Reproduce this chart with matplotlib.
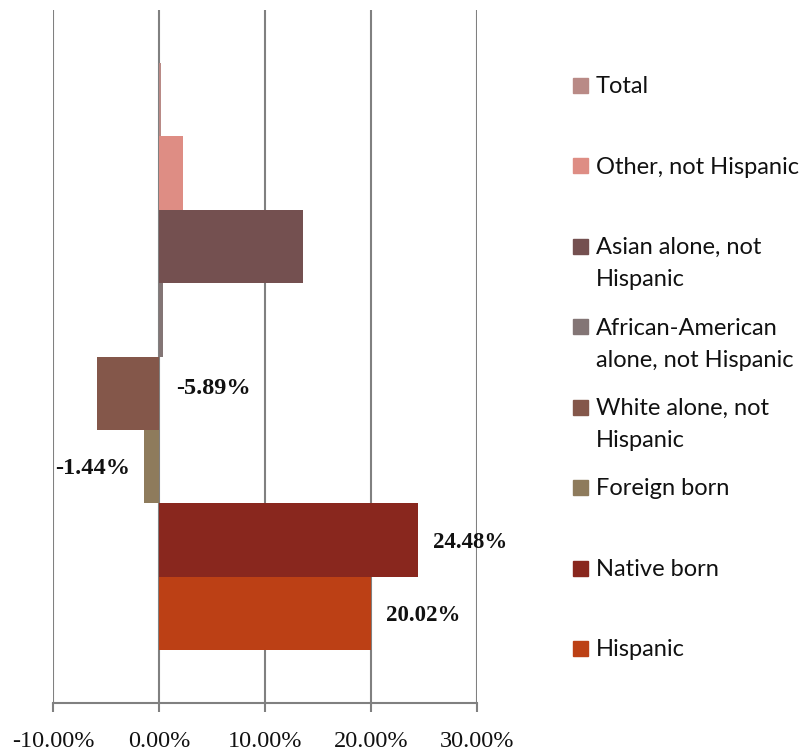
import matplotlib.pyplot as plt
from matplotlib.patches import Rectangle
from matplotlib.ticker import FuncFormatter

# Reihen von oben nach unten, wie in der Legende
namen = ["Total", "Other, not Hispanic", "Asian alone, not\nHispanic",
         "African-American\nalone, not Hispanic", "White alone, not\nHispanic",
         "Foreign born", "Native born", "Hispanic"]
werte = [0.15, 2.23, 13.55, 0.35, -5.89, -1.44, 24.48, 20.02]
farben = ["#B98A86", "#DE8D84", "#745050", "#837575", "#84574A",
          "#8E7B5C", "#89271E", "#BC4015"]
beschriftet = [False, False, False, False, True, True, True, True]
x_ticks = [-10, 0, 10, 20, 30]

W, H = 809, 755
fig = plt.figure(figsize=(W / 100, H / 100), dpi=100)
ax = fig.add_axes([53 / W, 1 - 703 / H, (477 - 53) / W, (703 - 10) / H])

n = len(werte)
ypos = [n - 1 - i for i in range(n)]
ax.barh(ypos, werte, height=1.0, color=farben, zorder=3)

ax.set_xlim(-10, 30)
ax.set_ylim(-0.5 - 0.72, n - 0.5 + 0.72)
ax.set_xticks(x_ticks)
ax.xaxis.set_major_formatter(FuncFormatter(lambda v, p: "%.2f%%" % v))
ax.set_yticks([])
ax.grid(axis="x", color="#808080", linewidth=1.5, zorder=1)
for s in ["top", "left", "right"]:
    ax.spines[s].set_visible(False)
ax.spines["bottom"].set_color("#808080")
ax.spines["bottom"].set_linewidth(1.5)
ax.tick_params(axis="x", direction="out", length=6.5, width=1.5, color="#808080",
               pad=14, labelsize=17.5, labelcolor="#111111")
for lab in ax.get_xticklabels():
    lab.set_fontfamily("Liberation Serif")

# Datenbeschriftungen
px = 40 / (477 - 53)  # Prozent pro Pixel
for i in range(n):
    if not beschriftet[i]:
        continue
    v = werte[i]
    txt = "%.2f%%" % v
    dy = -0.03
    fs = 16.5
    if v >= 0:
        x, ha = v + 15 * px, "left"
    elif v < -3:
        x, ha = 17 * px, "left"
        dy = 0.06
        fs = 17.5
    else:
        x, ha = v - 14 * px, "right"
        fs = 17.5
    ax.text(x, ypos[i] + dy, txt, ha=ha, va="center", fontsize=fs,
            fontweight="bold", family="Liberation Serif", color="#111111", zorder=4)

# Legende von Hand
for i in range(n):
    yc = 85 + i * 80.5
    fig.patches.append(Rectangle((573 / W, 1 - (yc + 7.5) / H), 15 / W, 15 / H,
                                 transform=fig.transFigure, color=farben[i]))
    fig.text(596 / W, 1 - (yc - 9) / H, namen[i], ha="left", va="top",
             fontsize=17, family="Lato", color="#111111", linespacing=1.65)

fig.savefig("out.png", dpi=100)
